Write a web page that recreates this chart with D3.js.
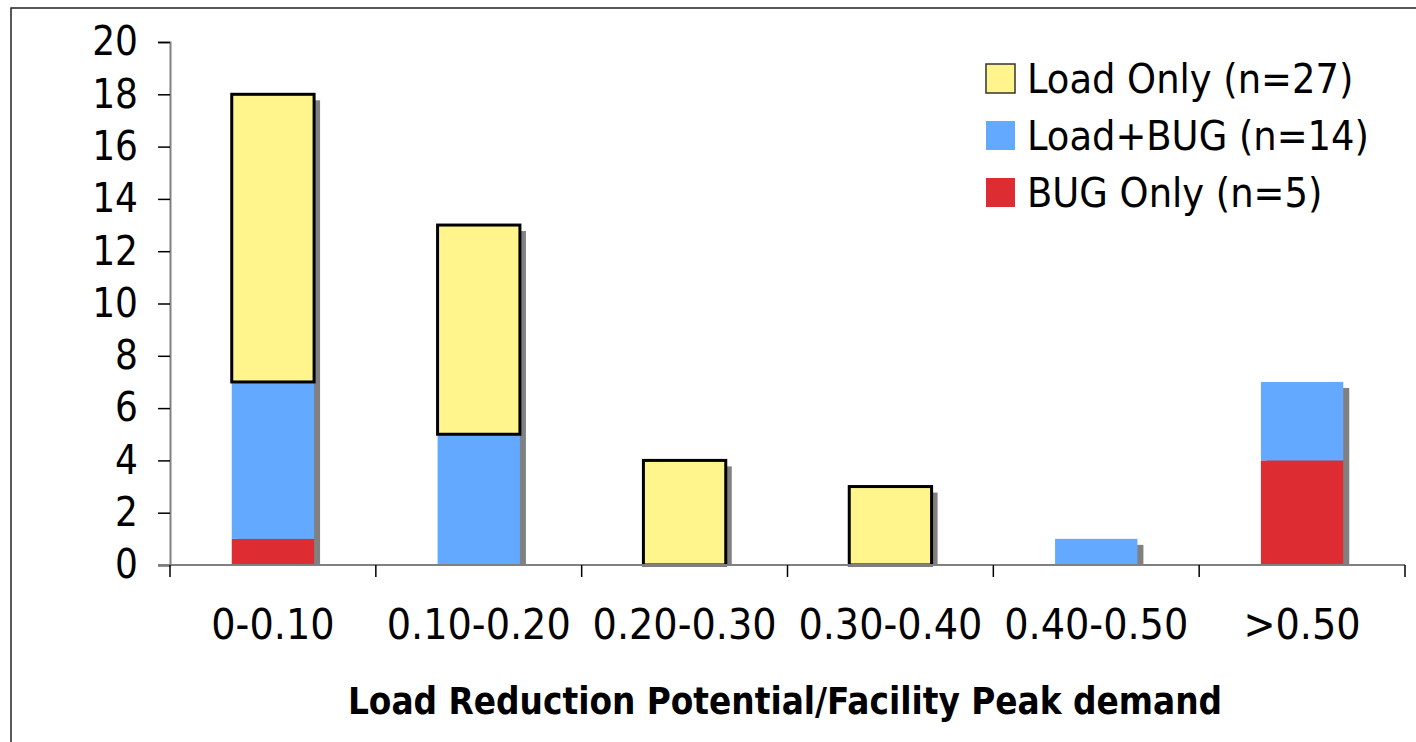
<!DOCTYPE html>
<html>
<head>
<meta charset="utf-8">
<script src="https://cdn.jsdelivr.net/npm/d3@7"></script>
<style>
  html, body { margin: 0; padding: 0; background: #fff; }
  svg text { font-family: "DejaVu Sans Condensed", "DejaVu Sans", sans-serif; font-stretch: condensed; fill: #000; }
</style>
</head>
<body>
<svg id="chart" width="1416" height="742"></svg>
<script>
// Counts of facilities per load-reduction bin, by strategy
const categories = ["0-0.10", "0.10-0.20", "0.20-0.30", "0.30-0.40", "0.40-0.50", ">0.50"];
const bugOnly  = [1, 0, 0, 0, 0, 4];
const loadBug  = [6, 5, 0, 0, 1, 3];
const loadOnly = [11, 8, 4, 3, 0, 0];
const seriesNames = ["BUG Only (n=5)", "Load+BUG (n=14)", "Load Only (n=27)"];
const seriesColors = ["#DE2C33", "#63A9FF", "#FFF58C"];
const yTicks = [0, 2, 4, 6, 8, 10, 12, 14, 16, 18, 20];
const xTitle = "Load Reduction Potential/Facility Peak demand";

const svg = d3.select("#chart");

// outer frame
svg.append("rect").attr("x", 11).attr("y", 8).attr("width", 1430).attr("height", 760)
  .attr("fill", "none").attr("stroke", "#222").attr("stroke-width", 1.5);

const plotLeft = 170, plotRight = 1405, plotTop = 42, plotBottom = 565;

const x = d3.scaleBand().domain(categories).range([plotLeft, plotRight]).paddingInner(0.6).paddingOuter(0.3);
const xOuter = d3.scaleBand().domain(categories).range([plotLeft, plotRight]);
const y = d3.scaleLinear().domain([0, 20]).range([plotBottom, plotTop]);

const rows = categories.map((c, i) => ({ cat: c, s0: bugOnly[i], s1: loadBug[i], s2: loadOnly[i] }));
const stack = d3.stack().keys(["s0", "s1", "s2"]);
const layers = stack(rows);

// shadows behind each bar
const shadowOff = 6;
svg.append("g").selectAll("rect").data(rows.filter(r => r.s0 + r.s1 + r.s2 > 0)).join("rect")
  .attr("x", d => x(d.cat) + shadowOff)
  .attr("y", d => y(d.s0 + d.s1 + d.s2) + shadowOff)
  .attr("width", x.bandwidth())
  .attr("height", d => plotBottom - (y(d.s0 + d.s1 + d.s2) + shadowOff))
  .attr("fill", "#808080");

// stacked segments
layers.forEach((layer, li) => {
  svg.append("g").selectAll("rect").data(layer.filter(d => d[1] > d[0])).join("rect")
    .attr("x", d => x(d.data.cat))
    .attr("y", d => y(d[1]))
    .attr("width", x.bandwidth())
    .attr("height", d => y(d[0]) - y(d[1]))
    .attr("fill", seriesColors[li])
    .attr("stroke", li === 2 ? "#000" : "none")
    .attr("stroke-width", li === 2 ? 3 : 0);
});

// y axis
const yAxis = d3.axisLeft(y).tickValues(yTicks).tickSize(12).tickPadding(20).tickFormat(d3.format("d"));
const gy = svg.append("g").attr("transform", `translate(${plotLeft},0)`).call(yAxis);
gy.select(".domain").attr("stroke", "#808080").attr("stroke-width", 2);
gy.selectAll(".tick line").attr("stroke", "#000").attr("stroke-width", 1.5);
gy.selectAll(".tick text").style("font-size", "40px");

// x axis: ticks between categories
const xBoundaries = categories.map(c => xOuter(c)).concat([plotRight]);
svg.append("line").attr("x1", plotLeft - 12).attr("x2", plotRight).attr("y1", plotBottom).attr("y2", plotBottom)
  .attr("stroke", "#808080").attr("stroke-width", 2);
svg.append("g").selectAll("line").data(xBoundaries).join("line")
  .attr("x1", d => d).attr("x2", d => d).attr("y1", plotBottom).attr("y2", plotBottom + 12)
  .attr("stroke", "#000").attr("stroke-width", 1.5);
svg.append("g").selectAll("text").data(categories).join("text")
  .attr("x", d => xOuter(d) + xOuter.bandwidth() / 2)
  .attr("y", 639)
  .attr("text-anchor", "middle")
  .style("font-size", "42.5px")
  .text(d => d);

// axis title
svg.append("text").attr("x", 785).attr("y", 714).attr("text-anchor", "middle")
  .style("font-size", "36.5px").style("font-weight", "bold").text(xTitle);

// legend (top to bottom: Load Only, Load+BUG, BUG Only)
const legendOrder = [2, 1, 0];
const lg = svg.append("g");
legendOrder.forEach((si, k) => {
  const yy = 64 + k * 57;
  lg.append("rect").attr("x", 986).attr("y", yy).attr("width", 29).attr("height", 29)
    .attr("fill", seriesColors[si])
    .attr("stroke", si === 2 ? "#333" : "none").attr("stroke-width", si === 2 ? 1.5 : 0);
  lg.append("text").attr("x", 1027).attr("y", yy + 29).style("font-size", "41px").text(seriesNames[si]);
});
</script>
</body>
</html>
